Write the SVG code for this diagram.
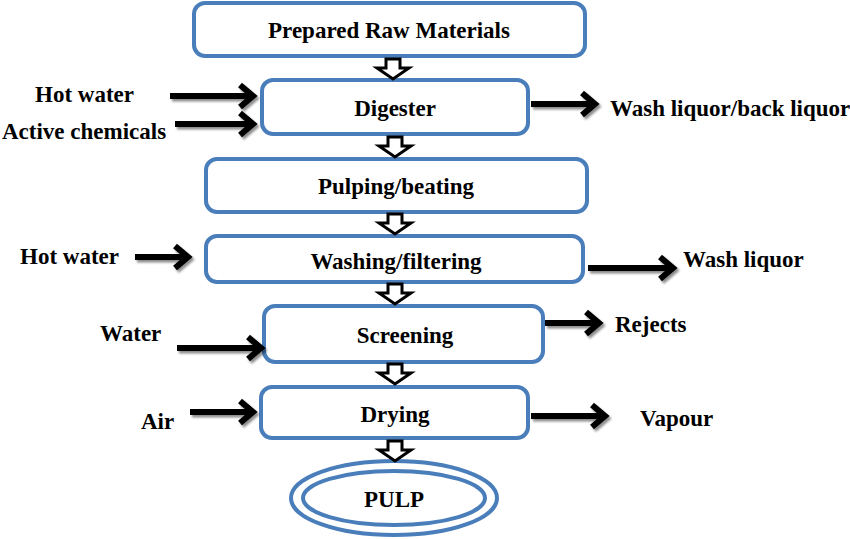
<svg xmlns="http://www.w3.org/2000/svg" width="850" height="539" viewBox="0 0 850 539">
<defs>
<style>
.box{fill:#fff;stroke:#4a7ebb;stroke-width:4}
.t{font-family:"Liberation Serif","Times New Roman","DejaVu Serif",serif;font-weight:bold;font-size:23px;fill:#000}
.c{text-anchor:middle}
.a{fill:none;stroke:#000;stroke-width:6;stroke-linejoin:miter;stroke-linecap:butt}
.d{fill:#fff;stroke:#000;stroke-width:3;stroke-linejoin:miter}
</style>
<filter id="sh" x="-20%" y="-50%" width="140%" height="200%">
<feDropShadow dx="2" dy="2.5" stdDeviation="1.2" flood-color="#000" flood-opacity="0.45"/>
</filter>
</defs>
<rect width="850" height="539" fill="#fff"/>

<g id="n-raw"><rect class="box" x="194" y="3" width="391" height="53" rx="11"/><text class="t c" x="389" y="38">Prepared Raw Materials</text></g>
<g id="n-digester"><rect class="box" x="262" y="80" width="266" height="54" rx="11"/><text class="t c" x="395" y="116">Digester</text></g>
<g id="n-pulping"><rect class="box" x="206" y="159" width="381" height="53" rx="11"/><text class="t c" x="396" y="194">Pulping/beating</text></g>
<g id="n-washing"><rect class="box" x="206" y="236" width="377" height="46" rx="11"/><text class="t c" x="396" y="269">Washing/filtering</text></g>
<g id="n-screening"><rect class="box" x="264" y="306" width="279" height="56" rx="11"/><text class="t c" x="405" y="343">Screening</text></g>
<g id="n-drying"><rect class="box" x="261" y="387" width="267" height="51" rx="11"/><text class="t c" x="395" y="422">Drying</text></g>
<g id="n-pulp"><ellipse cx="394" cy="498" rx="103" ry="37" fill="#fff" stroke="#4a7ebb" stroke-width="4"/><ellipse cx="394" cy="498" rx="91" ry="27" fill="none" stroke="#4a7ebb" stroke-width="4"/><text class="t c" x="394" y="507">PULP</text></g>

<g id="labels">
<text class="t" x="35" y="102">Hot water</text>
<text class="t" x="2" y="139">Active chemicals</text>
<text class="t" x="610" y="116">Wash liquor/back liquor</text>
<text class="t" x="20" y="264">Hot water</text>
<text class="t" x="683" y="267">Wash liquor</text>
<text class="t" x="100" y="341">Water</text>
<text class="t" x="615" y="332">Rejects</text>
<text class="t" x="141" y="429">Air</text>
<text class="t" x="640" y="426">Vapour</text>
</g>

<g id="connectors">
<g id="down-arrows">
<path class="d" d="M386,59 H400 V68 H409 L393,79 L377,68 H386 Z"/>
<path class="d" d="M388,137 H402 V146 H411 L395,157 L379,146 H388 Z"/>
<path class="d" d="M388,214 H402 V223 H411 L395,234 L379,223 H388 Z"/>
<path class="d" d="M388,284 H402 V293 H411 L395,304 L379,293 H388 Z"/>
<path class="d" d="M388,364 H402 V373 H411 L395,384 L379,373 H388 Z"/>
<path class="d" d="M388,441 H402 V450 H411 L395,461 L379,450 H388 Z"/>
</g>
<g id="side-arrows" filter="url(#sh)">
<path class="a" d="M170,96 H253 M240,85 L253,96 L240,107"/>
<path class="a" d="M175,124 H253 M240,113 L253,124 L240,135"/>
<path class="a" d="M531,104 H595 M582,93 L595,104 L582,115"/>
<path class="a" d="M135,257 H188 M175,246 L188,257 L175,268"/>
<path class="a" d="M588,268 H673 M660,257 L673,268 L660,279"/>
<path class="a" d="M177,348 H261 M248,337 L261,348 L248,359"/>
<path class="a" d="M545,323 H599 M586,312 L599,323 L586,334"/>
<path class="a" d="M190,412 H253 M240,401 L253,412 L240,423"/>
<path class="a" d="M531,416 H605 M592,405 L605,416 L592,427"/>
</g>
</g>
</svg>
